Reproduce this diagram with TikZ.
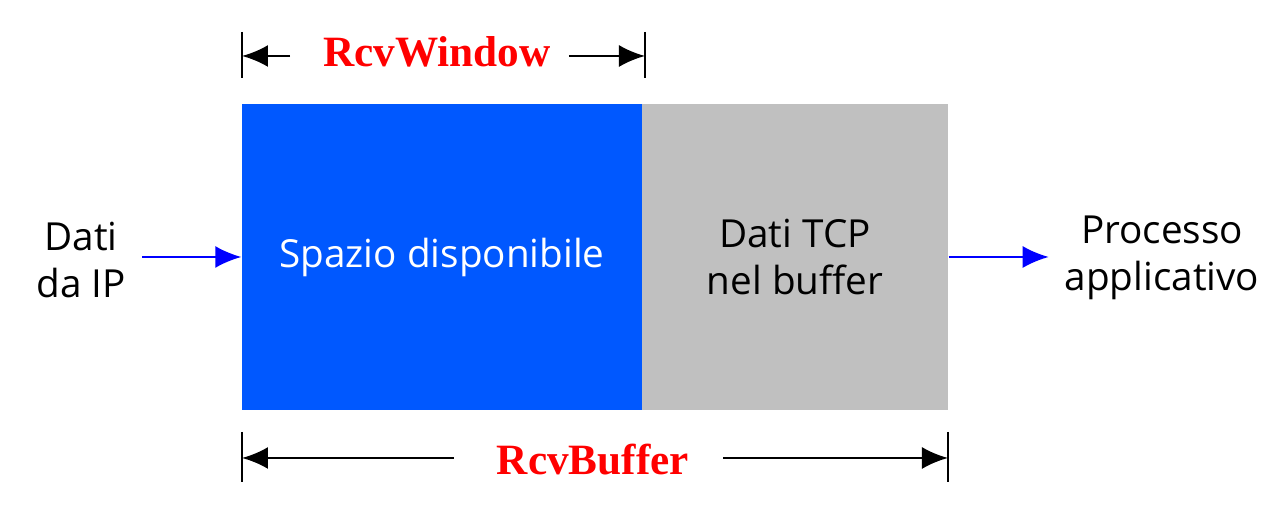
\documentclass[tikz,border=0pt]{standalone}
\usepackage{fontspec}
\setmainfont{Liberation Serif}
\setsansfont{Open Sans}
\usetikzlibrary{arrows.meta}
\definecolor{bufblue}{RGB}{0,88,255}
\definecolor{bufgray}{RGB}{192,192,192}
\definecolor{lblred}{RGB}{255,0,0}
\tikzset{
  buf/.style={rectangle, minimum height=3.06cm, inner sep=0pt, font=\sffamily\fontsize{11}{13.5}\selectfont, align=center},
  side/.style={font=\sffamily\fontsize{11}{13.5}\selectfont, align=center},
  dimlabel/.style={font=\bfseries\fontsize{12.3}{14}\selectfont, text=lblred, inner xsep=5pt},
  dimline/.style={-{Latex[length=2.6mm,width=2.2mm]}, line width=0.7pt},
  flow/.style={-{Latex[length=2.6mm,width=2.2mm]}, blue, line width=0.6pt}
}
\begin{document}
\begin{tikzpicture}
  \useasboundingbox (0,0) rectangle (12.86,5.32);
  % Nodes
  \node (free) [buf, fill=bufblue, text=white, minimum width=4cm] at (4.42, 2.75) {Spazio disponibile};
  \node (used) [buf, fill=bufgray, minimum width=3.06cm] at (7.95, 2.75) {Dati TCP\\nel buffer};
  \node (in) [side] at (0.81, 2.72) {Dati\\da IP};
  \node (out) [side] at (11.62, 2.74) {Processo\\applicativo};
  \node (rcvwindow) [dimlabel] at (4.37, 4.80) {RcvWindow};
  \node (rcvbuffer) [dimlabel] at (5.93, 0.72) {RcvBuffer};
  % Ticks
  \coordinate (w-left) at (2.42, 4.76);
  \coordinate (w-right) at (6.45, 4.76);
  \coordinate (b-left) at (2.42, 0.74);
  \coordinate (b-right) at (9.48, 0.74);
  \draw[line width=0.7pt] ([yshift=0.24cm]w-left) -- ([yshift=-0.22cm]w-left);
  \draw[line width=0.7pt] ([yshift=0.24cm]w-right) -- ([yshift=-0.22cm]w-right);
  \draw[line width=0.7pt] ([yshift=0.26cm]b-left) -- ([yshift=-0.24cm]b-left);
  \draw[line width=0.7pt] ([yshift=0.26cm]b-right) -- ([yshift=-0.24cm]b-right);
  % Arrow
  \draw[dimline] ([xshift=-0.15cm]rcvwindow.west |- w-left) -- (w-left);
  \draw[dimline] (rcvwindow.east |- w-right) -- (w-right);
  \draw[dimline] ([xshift=-0.25cm]rcvbuffer.west |- b-left) -- (b-left);
  \draw[dimline] ([xshift=0.16cm]rcvbuffer.east |- b-right) -- (b-right);
  \draw[flow] ([xshift=-0.99cm]free.west) -- (free.west);
  \draw[flow] (used.east) -- ([xshift=1cm]used.east);
\end{tikzpicture}
\end{document}
